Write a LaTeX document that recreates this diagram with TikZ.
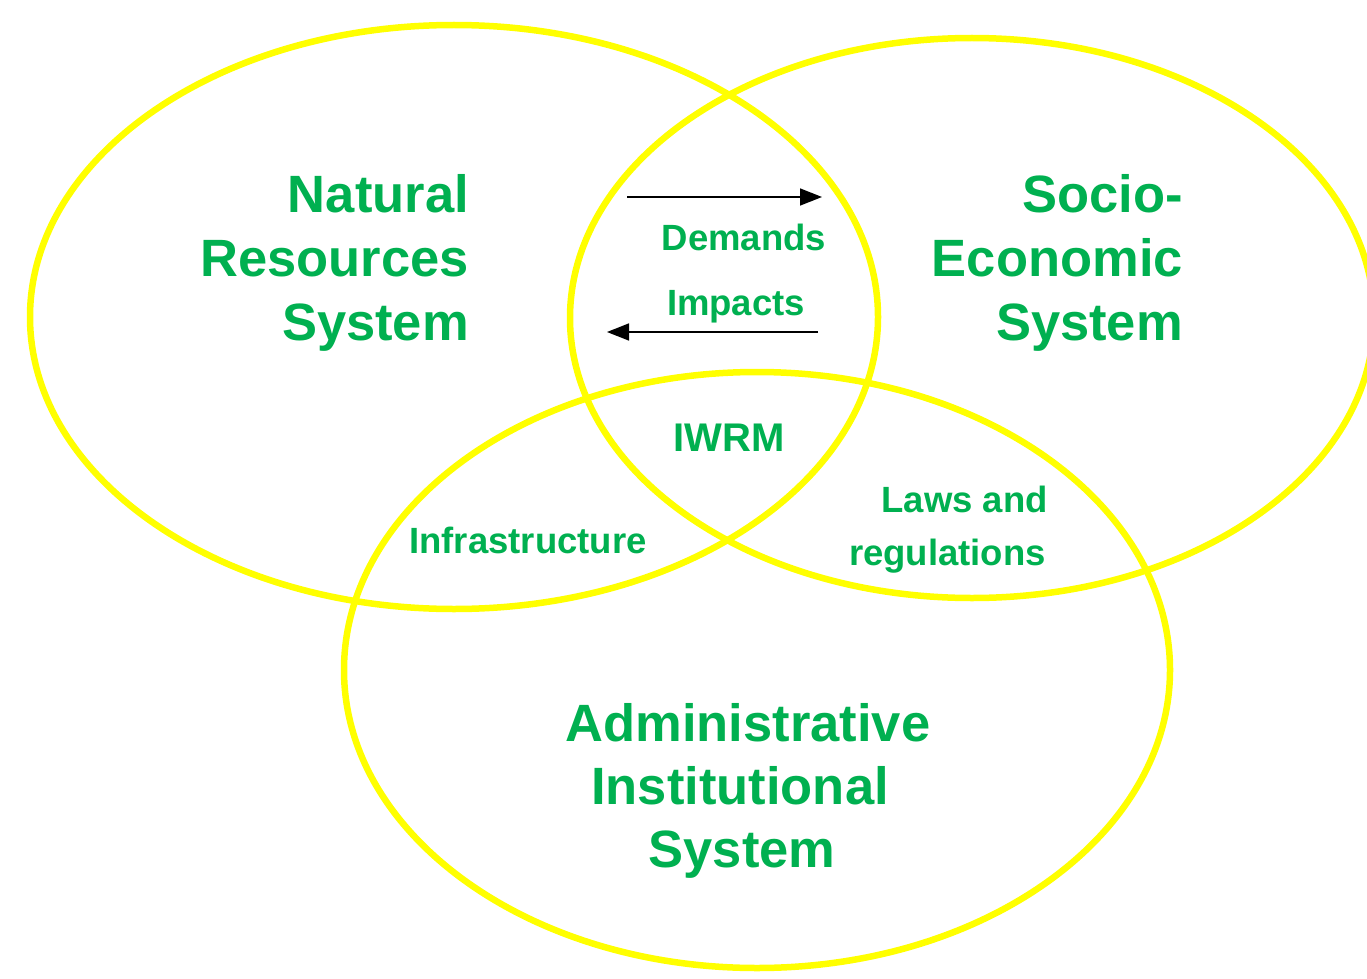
\documentclass[tikz,border=0pt]{standalone}
\usepackage{fontspec}
\setmainfont{Liberation Sans}
\usetikzlibrary{arrows.meta}
\definecolor{ringyellow}{HTML}{FFFF00}
\definecolor{labelgreen}{HTML}{00B050}
\tikzset{
  ring/.style={draw=ringyellow, line width=6.5pt},
  bigtext/.style={text=labelgreen, inner sep=0pt, font=\fontsize{52.5}{64}\selectfont\bfseries},
  smalltext/.style={text=labelgreen, inner sep=0pt, font=\fontsize{36.5}{52}\selectfont\bfseries},
  flow/.style={draw=black, line width=1.6pt, -{Triangle[length=22pt,width=17pt]}}
}
\begin{document}
\begin{tikzpicture}[x=1pt,y=-1pt]
\useasboundingbox[fill=white] (0,0) rectangle (1367,979);
% ellipses
\draw[ring] (454,317) ellipse [x radius=424pt, y radius=292pt];
\draw[ring] (972,318) ellipse [x radius=402pt, y radius=280pt];
\draw[ring] (757,670) ellipse [x radius=413pt, y radius=298pt];
% big labels
\node[bigtext, anchor=base east] (nat1) at (469,212) {Natural};
\node[bigtext, anchor=base east] (nat2) at (469,276) {Resources};
\node[bigtext, anchor=base east] (nat3) at (469,340) {System};
\node[bigtext, anchor=base east] (soc1) at (1183,212) {Socio-};
\node[bigtext, anchor=base east] (soc2) at (1183,276) {Economic};
\node[bigtext, anchor=base east] (soc3) at (1183,340) {System};
\node[bigtext, anchor=base] (adm1) at (748,741) {Administrative};
\node[bigtext, anchor=base] (adm2) at (740,804) {Institutional};
\node[bigtext, anchor=base] (adm3) at (742,867) {System};
% small labels
\node[smalltext, anchor=base] (dem) at (744,250) {Demands};
\node[smalltext, anchor=base] (imp) at (736,315) {Impacts};
\node[text=labelgreen, inner sep=0pt, font=\fontsize{40}{48}\selectfont\bfseries, anchor=base] (iwrm) at (729,451) {IWRM};
\node[smalltext, anchor=base] (inf) at (528,553) {Infrastructure};
\node[smalltext, anchor=base east] (law1) at (1048,512) {Laws and};
\node[smalltext, anchor=base east] (law2) at (1046,565) {regulations};
% arrows
\coordinate (d0) at (627,197);
\coordinate (d1) at (822,197);
\coordinate (i0) at (818,332);
\coordinate (i1) at (607,332);
\draw[flow] (d0) -- (d1);
\draw[flow] (i0) -- (i1);
\end{tikzpicture}
\end{document}
